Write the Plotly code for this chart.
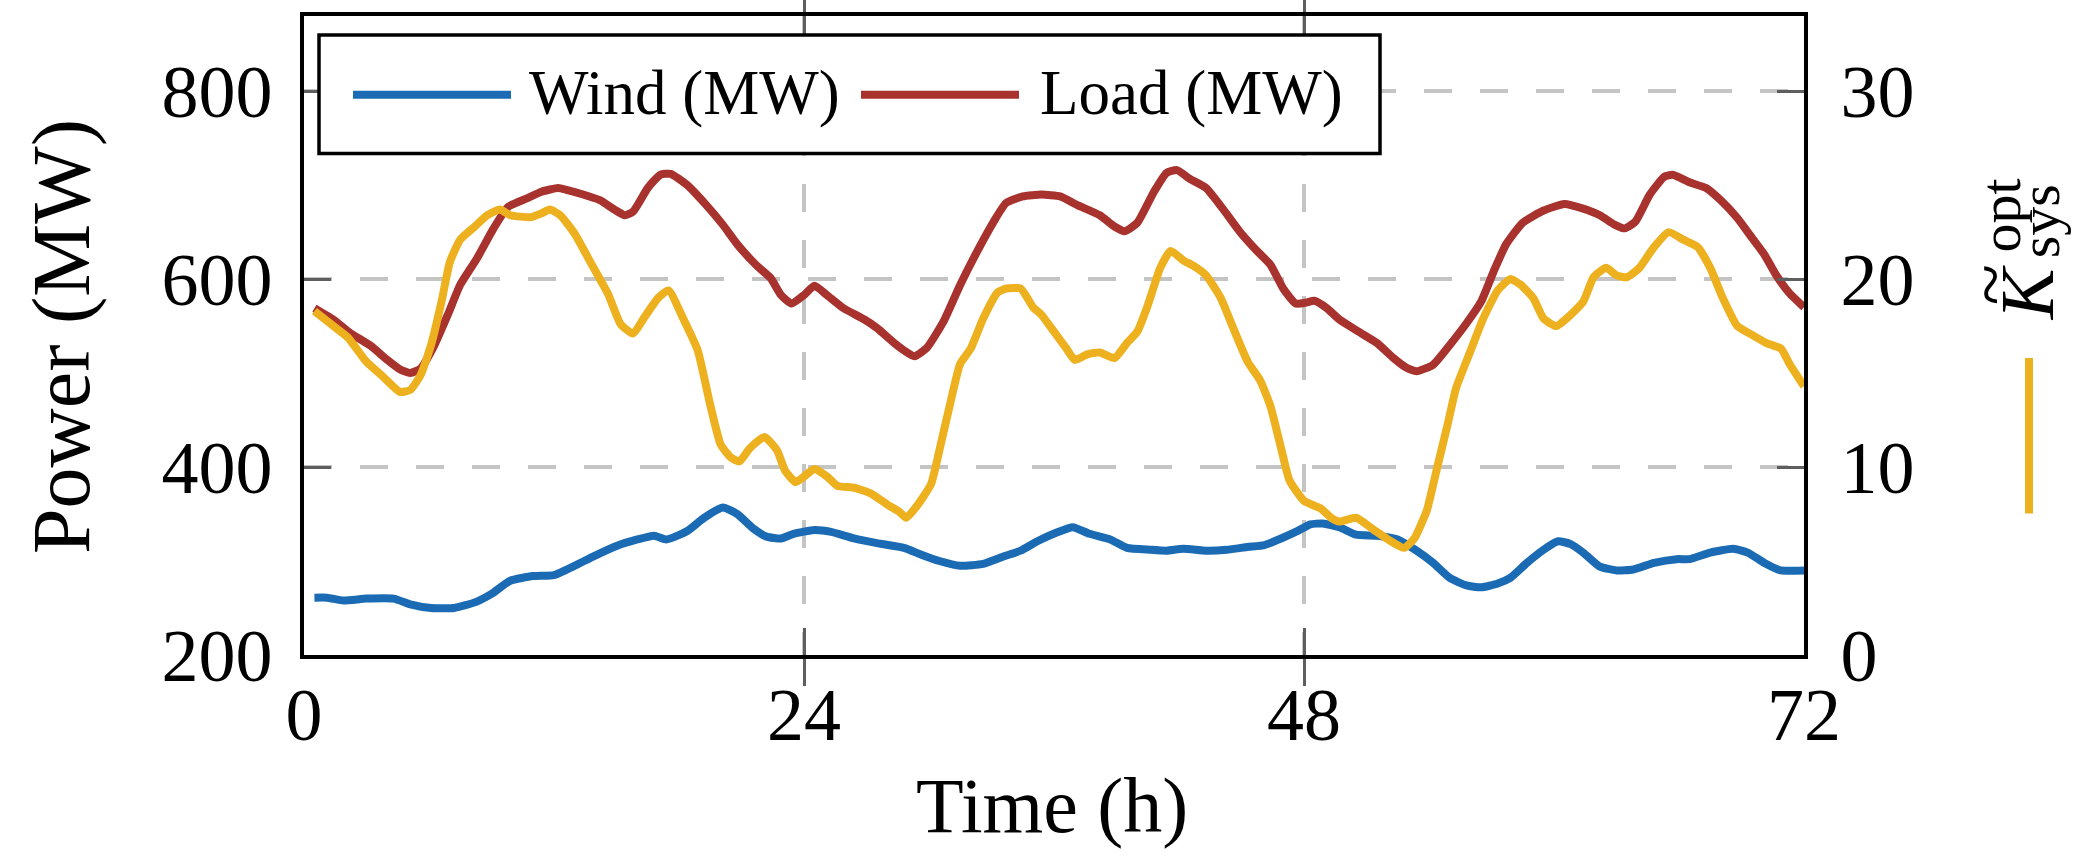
import plotly.graph_objects as go

# ---------------- data ----------------
wind_t = [0.5, 1.1, 1.9, 3.0, 4.3, 5.1, 6.1, 7.2, 8.2, 9.0, 9.9, 11.0, 12.0, 13.0, 13.9,
          15.0, 16.0, 16.8, 17.4, 18.4, 19.2, 20.1, 20.8, 21.6, 22.2, 22.9, 23.5, 24.5, 25.3,
          26.4, 27.5, 28.8, 29.6, 30.5, 31.5, 32.6, 33.6, 34.4, 35.2, 36.1, 36.9, 37.7, 38.7,
          39.5, 40.6, 41.4, 42.2, 43.3, 44.3, 45.3, 46.1, 46.9, 47.7, 48.3, 48.9, 49.7, 50.5,
          51.5, 52.5, 53.4, 54.2, 55.0, 55.8, 56.5, 57.3, 57.9, 58.7, 59.5, 60.2, 60.8, 61.4,
          62.2, 63.0, 63.8, 64.8, 65.9, 66.5, 67.5, 68.6, 69.3, 70.1, 70.9, 72.0]
wind_mw = [261, 261, 258, 260, 260, 254, 250, 250, 256, 265, 279, 284, 285, 295, 305,
           316, 323, 327, 323, 332, 346, 357, 350, 334, 326, 324, 329, 333, 331,
           324, 319, 314, 307, 300, 295, 297, 305, 311, 321, 330, 336, 329, 323,
           314, 312, 311, 313, 311, 312, 315, 317, 324, 332, 339, 340, 336, 328,
           327, 323, 311, 298, 282, 274, 272, 276, 282, 298, 312, 321, 318, 309,
           294, 290, 291, 298, 302, 302, 309, 313, 309, 298, 290, 290]

load_t = [0.5, 1.4, 2.2, 3.2, 4.0, 4.6, 5.1, 5.6, 6.2, 6.9, 7.5, 8.3, 9.1, 9.8, 10.7,
          11.4, 12.2, 12.6, 13.4, 14.2, 14.9, 15.4, 15.8, 16.5, 17.1, 17.6, 18.4, 19.3, 20.1,
          20.8, 21.7, 22.4, 22.9, 23.4, 24.0, 24.5, 25.1, 25.9, 26.9, 27.5, 28.5, 29.3, 29.9,
          30.7, 31.5, 32.3, 33.1, 33.7, 34.5, 35.4, 36.3, 37.1, 38.2, 38.9, 39.4, 40.0, 40.8,
          41.4, 41.9, 42.5, 43.3, 44.1, 44.9, 45.7, 46.4, 47.0, 47.6, 48.1, 48.5, 49.1, 49.7,
          50.7, 51.5, 52.3, 52.9, 53.4, 54.2, 55.0, 55.8, 56.5, 57.1, 57.7, 58.5, 59.5, 60.5,
          61.4, 62.2, 62.9, 63.4, 63.9, 64.6, 65.3, 65.7, 66.5, 67.3, 68.0, 68.8, 69.4, 70.1,
          70.7, 71.3, 72.0]
load_mw = [569, 557, 543, 529, 514, 504, 500, 505, 527, 562, 594, 622, 654, 677, 686,
           693, 697, 695, 690, 684, 674, 668, 672, 697, 711, 712, 700, 679, 658,
           637, 615, 601, 583, 574, 583, 593, 583, 569, 557, 548, 529, 518, 527,
           555, 594, 629, 661, 681, 688, 690, 688, 679, 668, 656, 651, 660, 693,
           713, 716, 707, 697, 675, 651, 631, 615, 590, 574, 575, 577, 569, 557,
           543, 532, 516, 506, 502, 509, 530, 553, 576, 608, 637, 660, 673, 680,
           675, 668, 658, 654, 661, 690, 709, 711, 703, 697, 684, 665, 647, 626,
           603, 585, 570]

k_t = [0.5, 1.3, 2.1, 3.0, 3.8, 4.6, 5.1, 5.6, 6.1, 6.6, 7.0, 7.5, 8.2, 8.8, 9.4,
       9.9, 10.9, 11.4, 11.8, 12.3, 13.0, 13.8, 14.6, 15.2, 15.8, 16.3, 17.0, 17.5, 18.2,
       18.9, 19.5, 20.0, 20.5, 20.9, 21.4, 22.1, 22.7, 23.1, 23.6, 24.0, 24.5, 25.1, 25.6,
       26.4, 27.2, 28.0, 28.6, 28.9, 29.4, 30.1, 30.5, 31.0, 31.5, 32.0, 32.6, 33.3, 33.7,
       34.4, 35.0, 35.4, 36.0, 36.6, 37.0, 37.6, 38.2, 38.9, 39.5, 40.0, 40.5, 41.1, 41.6,
       42.2, 42.7, 43.3, 44.0, 44.6, 45.3, 45.9, 46.4, 46.9, 47.3, 48.0, 48.8, 49.3, 49.7,
       50.5, 51.3, 52.1, 52.8, 53.3, 53.6, 53.9, 54.4, 54.9, 55.3, 56.0, 56.6, 57.3, 57.9,
       58.4, 59.0, 59.5, 60.1, 60.6, 61.4, 61.9, 62.5, 63.0, 63.5, 64.1, 64.8, 65.5, 66.2,
       66.9, 67.5, 68.1, 68.8, 69.4, 70.2, 70.9, 71.3, 72.0]
k_val = [18.3, 17.6, 16.9, 15.6, 14.8, 14.0, 14.1, 14.9, 16.5, 18.8, 20.9, 22.1, 22.8, 23.4, 23.7,
         23.4, 23.3, 23.5, 23.7, 23.4, 22.4, 20.8, 19.2, 17.6, 17.1, 17.9, 19.0, 19.4, 17.9,
         16.2, 13.3, 11.2, 10.5, 10.3, 11.0, 11.6, 10.9, 9.8, 9.2, 9.5, 9.9, 9.5, 9.0,
         8.9, 8.6, 8.0, 7.6, 7.3, 7.9, 9.1, 10.9, 13.3, 15.5, 16.3, 17.9, 19.3, 19.5,
         19.5, 18.5, 18.1, 17.2, 16.3, 15.7, 16.0, 16.1, 15.8, 16.6, 17.2, 18.6, 20.6, 21.5,
         21.0, 20.7, 20.2, 19.0, 17.4, 15.6, 14.6, 13.2, 11.0, 9.3, 8.2, 7.8, 7.3, 7.1,
         7.3, 6.7, 6.1, 5.7, 6.2, 6.9, 7.7, 10.0, 12.3, 14.2, 16.2, 17.9, 19.4, 20.0,
         19.7, 19.0, 17.9, 17.5, 17.9, 18.8, 20.1, 20.6, 20.2, 20.1, 20.6, 21.7, 22.5, 22.1,
         21.7, 20.6, 19.0, 17.5, 17.1, 16.6, 16.3, 15.5, 14.3]

x_ticks = [0, 24, 48, 72]
y_ticks = [200, 400, 600, 800]
y2_ticks = [0, 10, 20, 30]

series_names = ["Wind (MW)", "Load (MW)"]
x_title = "Time (h)"
y_title = "Power (MW)"

# ---------------- style ----------------
FONT = "Liberation Serif"
BLUE = "#1A6BB3"
RED = "#A8322D"
YELLOW = "#EDB120"
GRID = "#c4c4c4"
TICKC = "#5e5e5e"
LW = 8

W, H = 2077, 857
L, R, T, B = 304, 273, 14, 202
PW = W - L - R
PH = H - T - B


def px(x):
    return (x - L) / PW


def py(y):
    return (H - B - y) / PH


fig = go.Figure()
fig.add_trace(go.Scatter(x=wind_t, y=wind_mw, mode="lines", name=series_names[0],
                         line=dict(color=BLUE, width=LW, shape="spline", smoothing=0.5),
                         yaxis="y"))
fig.add_trace(go.Scatter(x=load_t, y=load_mw, mode="lines", name=series_names[1],
                         line=dict(color=RED, width=LW, shape="spline", smoothing=0.5),
                         yaxis="y"))
fig.add_trace(go.Scatter(x=k_t, y=k_val, mode="lines", name="K",
                         line=dict(color=YELLOW, width=LW, shape="spline", smoothing=0.5),
                         yaxis="y2"))

common = dict(ticks="inside", ticklen=27, tickwidth=2.5, tickcolor=TICKC,
              showline=True, linecolor="black", linewidth=3.5, zeroline=False,
              tickfont=dict(family=FONT, size=74, color="black"))

fig.update_layout(
    width=W, height=H,
    margin=dict(l=L, r=R, t=T, b=B, pad=0),
    paper_bgcolor="white", plot_bgcolor="white",
    showlegend=False,
    font=dict(family=FONT, color="black"),
    xaxis=dict(range=[0, 72], tickvals=x_ticks, mirror="allticks",
               showgrid=True, gridcolor=GRID, gridwidth=3.5, griddash="28px,28px",
               ticklabelstandoff=-8, **common),
    yaxis=dict(range=[200, 880], tickvals=y_ticks, mirror="allticks",
               showgrid=True, gridcolor=GRID, gridwidth=3.5, griddash="28px,28px",
               ticklabelstandoff=13, **common),
    yaxis2=dict(range=[0, 34], tickvals=y2_ticks, overlaying="y", side="right",
                showgrid=False, ticklabelstandoff=18, **common),
)

shapes = []
# legend box
shapes.append(dict(type="rect", xref="paper", yref="paper",
                   x0=px(319), x1=px(1380), y0=py(152), y1=py(33),
                   fillcolor="white", line=dict(color="black", width=3.5), layer="above"))
shapes.append(dict(type="line", xref="paper", yref="paper",
                   x0=px(353), x1=px(511), y0=py(93), y1=py(93),
                   line=dict(color=BLUE, width=LW), layer="above"))
shapes.append(dict(type="line", xref="paper", yref="paper",
                   x0=px(861), x1=px(1019), y0=py(93), y1=py(93),
                   line=dict(color=RED, width=LW), layer="above"))
# sample line of right-axis label
shapes.append(dict(type="line", xref="paper", yref="paper",
                   x0=px(2029), x1=px(2029), y0=py(357), y1=py(513),
                   line=dict(color=YELLOW, width=LW), layer="above"))
fig.update_layout(shapes=shapes)


def note(text, x, y, size, angle=0, xanchor="center"):
    return dict(text=text, xref="paper", yref="paper", x=px(x), y=py(y),
                xanchor=xanchor, yanchor="middle", showarrow=False, textangle=angle,
                font=dict(family=FONT, size=size, color="black"))


ann = [
    note(series_names[0], 527, 91, 63, xanchor="left"),
    note(series_names[1], 1038, 91, 63, xanchor="left"),
    note(x_title, 1052, 806, 78),
    note(y_title, 62, 336, 82, angle=-90),
    # right axis label: K tilde with stacked sub/superscript
    note("~", 1990, 284, 76, angle=-90),
    note("<i>K</i>", 2027, 292, 76, angle=-90),
    note("opt", 2000, 214, 58, angle=-90),
    note("sys", 2039, 220, 58, angle=-90),
]
fig.update_layout(annotations=ann)

fig.write_html("out.html")
